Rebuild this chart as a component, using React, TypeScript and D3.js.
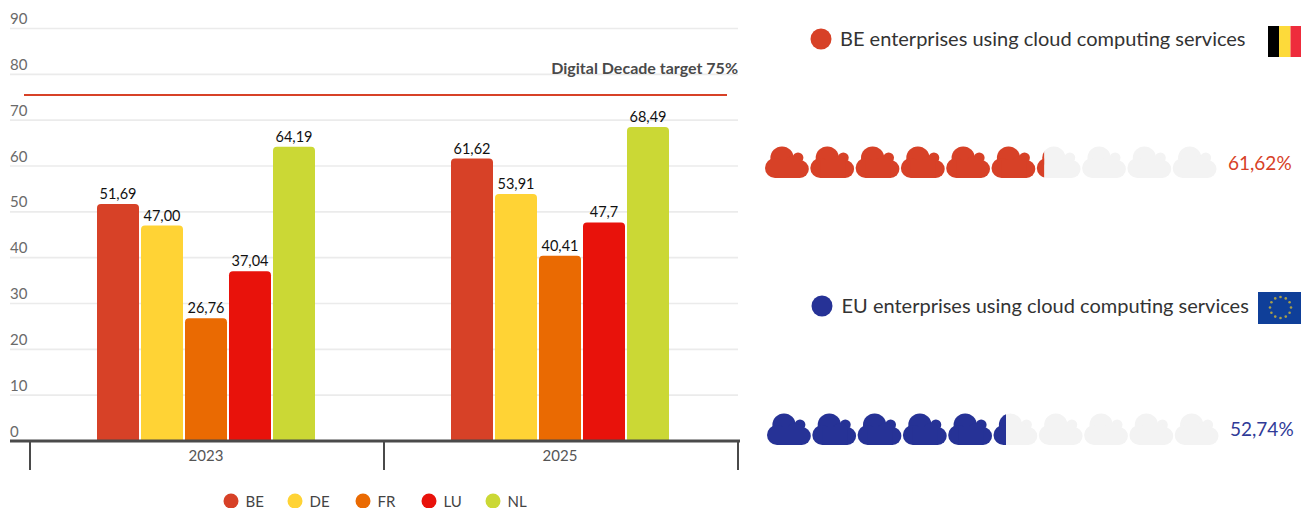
import React from "react";
import * as d3 from "d3";

const years = ["2023", "2025"];
const countries = ["BE", "DE", "FR", "LU", "NL"];
const colors = ["#d74127", "#ffd335", "#ea6a02", "#e8120b", "#cbd835"];
const values2023 = [51.69, 47.0, 26.76, 37.04, 64.19];
const values2025 = [61.62, 53.91, 40.41, 47.7, 68.49];
const labels2023 = ["51,69", "47,00", "26,76", "37,04", "64,19"];
const labels2025 = ["61,62", "53,91", "40,41", "47,7", "68,49"];
const yTicks = [0, 10, 20, 30, 40, 50, 60, 70, 80, 90];
const targetDrawn = 75.5;
const targetLabel = "Digital Decade target 75%";

const beValue = 61.62;
const euValue = 52.74;
const beTitle = "BE enterprises using cloud computing services";
const euTitle = "EU enterprises using cloud computing services";
const beText = "61,62%";
const euText = "52,74%";

const FONT = "Lato, 'Open Sans', sans-serif";
const y = d3.scaleLinear().domain([0, 90]).range([441, 28.5]);
const xYear = d3.scaleBand<string>().domain(years).range([30, 738]);
const xCountry = d3.scaleBand<string>().domain(countries).range([-110, 108]).paddingInner(2 / 44).paddingOuter(0);

function topRounded(x: number, yt: number, w: number, yb: number, r: number) {
  const p = d3.path();
  p.moveTo(x, yb);
  p.lineTo(x, yt + r);
  p.quadraticCurveTo(x, yt, x + r, yt);
  p.lineTo(x + w - r, yt);
  p.quadraticCurveTo(x + w, yt, x + w, yt + r);
  p.lineTo(x + w, yb);
  p.closePath();
  return p.toString();
}

function Cloud({ x, y: cy, fill }: { x: number; y: number; fill: string }) {
  return (
    <g transform={`translate(${x},${cy})`} fill={fill}>
      <circle cx={17} cy={12} r={11.6} />
      <circle cx={33} cy={11.8} r={5.4} />
      <circle cx={28} cy={18} r={8} />
      <circle cx={34.8} cy={23} r={9} />
      <circle cx={10} cy={22} r={10} />
      <rect x={10} y={14} width={25} height={18} />
    </g>
  );
}

function CloudRow({ id, x0, top, value, color }: { id: string; x0: number; top: number; value: number; color: string }) {
  const scale = d3.scaleLinear().domain([0, 100]).range([x0, x0 + 453]);
  const slots = d3.range(0, 100, 10);
  const split = scale(value);
  return (
    <g>
      <clipPath id={id}>
        <rect x={x0 - 2} y={top - 2} width={split - x0 + 2} height={38} />
      </clipPath>
      {slots.map((s) => (
        <Cloud key={s} x={scale(s)} y={top} fill="#f3f3f3" />
      ))}
      <g clipPath={`url(#${id})`}>
        {slots.map((s) => (
          <Cloud key={s} x={scale(s)} y={top} fill={color} />
        ))}
      </g>
    </g>
  );
}

export default function App() {
  const groups = [
    { year: years[0], vals: values2023, labels: labels2023 },
    { year: years[1], vals: values2025, labels: labels2025 },
  ];
  const cxYear = (yr: string) => xYear(yr)! + xYear.bandwidth() / 2;
  const legendX = [231, 295, 363, 429, 493];
  const starAngles = d3.range(12).map((i) => (i * Math.PI) / 6);
  return (
    <svg
      width={1301}
      height={508}
      style={{ position: "absolute", left: 0, top: 0, fontFamily: FONT, background: "#fff" }}
    >
      {yTicks.filter((t) => t > 0).map((t) => (
        <line key={t} x1={10} x2={738} y1={y(t)} y2={y(t)} stroke="#ebebeb" strokeWidth={1.6} />
      ))}
      {yTicks.map((t) => (
        <text key={t} x={10} y={y(t) - 4.5} fontSize={15} fill="#6a6a6a">{t}</text>
      ))}

      {groups.map((g) =>
        g.vals.map((v, i) => {
          const bx = cxYear(g.year) + xCountry(countries[i])!;
          const bw = xCountry.bandwidth();
          return (
            <g key={g.year + countries[i]}>
              <path d={topRounded(bx, y(v), bw, y(0), 4)} fill={colors[i]} />
              <text x={bx + bw / 2} y={y(v) - 5} fontSize={14.5} textAnchor="middle" fill="#111">
                {g.labels[i]}
              </text>
            </g>
          );
        })
      )}

      <line x1={24} x2={727} y1={y(targetDrawn)} y2={y(targetDrawn)} stroke="#d74127" strokeWidth={2} />
      <text x={738} y={74} fontSize={16} fontWeight={700} textAnchor="end" fill="#4a4a4a">{targetLabel}</text>

      <line x1={10} x2={740} y1={y(0)} y2={y(0)} stroke="#4a4a4a" strokeWidth={3} />
      {[30, 384, 738].map((t) => (
        <line key={t} x1={t} x2={t} y1={441} y2={470} stroke="#4a4a4a" strokeWidth={2} />
      ))}
      {years.map((yr) => (
        <text key={yr} x={cxYear(yr) - 1} y={460.5} fontSize={15} textAnchor="middle" fill="#555">{yr}</text>
      ))}

      {countries.map((c, i) => (
        <g key={c}>
          <circle cx={legendX[i]} cy={501} r={7.5} fill={colors[i]} />
          <text x={legendX[i] + 14.5} y={507} fontSize={15} fill="#444">{c}</text>
        </g>
      ))}

      <circle cx={821} cy={39} r={10.5} fill="#d74127" />
      <text x={840} y={46} fontSize={20} fill="#333">{beTitle}</text>
      <rect x={1268} y={26} width={11} height={31} fill="#000" />
      <rect x={1279} y={26} width={11.5} height={31} fill="#fdda3a" />
      <rect x={1290.5} y={26} width={10.5} height={31} fill="#ee2c3c" />
      <CloudRow id="clipBE" x0={765} top={146} value={beValue} color="#d74127" />
      <text x={1228} y={170} fontSize={19} fill="#d74127">{beText}</text>

      <circle cx={822} cy={306} r={10.5} fill="#263296" />
      <text x={841.5} y={313} fontSize={20} fill="#333">{euTitle}</text>
      <rect x={1258} y={292} width={43} height={32} fill="#0f3f99" />
      {starAngles.map((a, i) => (
        <circle key={i} cx={1280.5 + 10.5 * Math.cos(a)} cy={307.5 + 10.5 * Math.sin(a)} r={1.3} fill="#a99f4a" />
      ))}
      <CloudRow id="clipEU" x0={767} top={413} value={euValue} color="#263296" />
      <text x={1230} y={436} fontSize={19} fill="#2f3a97">{euText}</text>
    </svg>
  );
}
